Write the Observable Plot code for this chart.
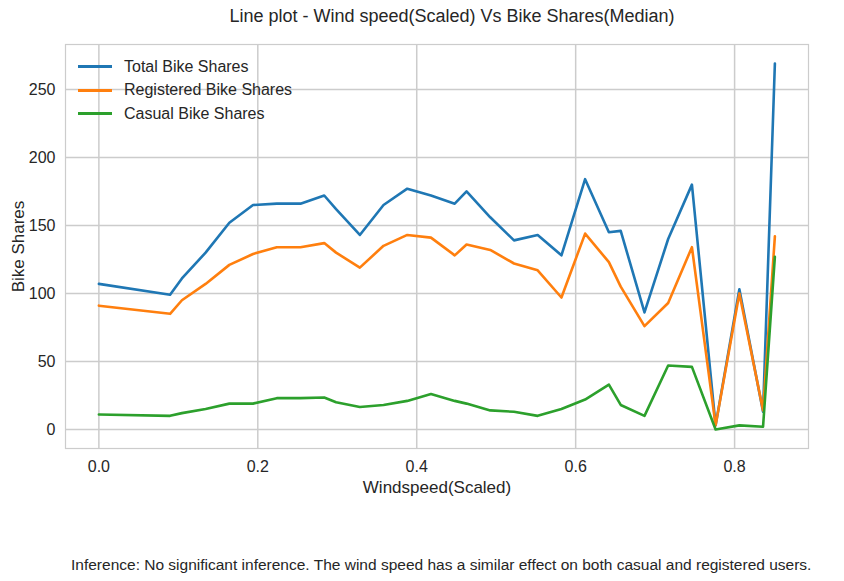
<!DOCTYPE html>
<html><head><meta charset="utf-8">
<script src="https://cdn.jsdelivr.net/npm/d3@7"></script>
<script src="https://cdn.jsdelivr.net/npm/@observablehq/plot@0.6"></script>
<style>
body{margin:0;font-family:"Liberation Sans",Arial,sans-serif;background:#fff;width:844px;position:relative}
#title{height:40px;line-height:32px;text-align:center;font-size:18px;color:#262626;padding-left:60px}
#legend{position:absolute;left:78px;top:55px;font-size:16px;color:#262626}
#legend div{display:flex;align-items:center;height:23.5px}
#legend span{display:inline-block;width:34px;height:3px;margin-right:12px}
#cap{margin-top:46px;font-size:15.5px;color:#262626;padding-left:71px;white-space:nowrap}
</style></head><body>
<div id="title">Line plot - Wind speed(Scaled) Vs Bike Shares(Median)</div>
<div id="chart"></div>
<div id="legend"></div>
<div id="cap">Inference: No significant inference. The wind speed has a similar effect on both casual and registered users.</div>
<script>
const windspeed=[0,0.0896,0.1045,0.1343,0.1642,0.194,0.2239,0.2537,0.2836,0.2985,0.3284,0.3582,0.3881,0.4179,0.4478,0.4627,0.4925,0.5224,0.5522,0.5821,0.6119,0.6418,0.6567,0.6866,0.7164,0.7463,0.7761,0.806,0.8358,0.8507];
const total=[107,99,111,130,152,165,166,166,172,162,143,165,177,172,166,175,156,139,143,128,184,145,146,86,140,180,3,103,13,269];
const registered=[91,85,95,107,121,129,134,134,137,130,119,135,143,141,128,136,132,122,117,97,144,123,105,76,93,134,3,100,14,142];
const casual=[11,10,12,15,19,19,23,23,23.5,20,16.5,18,21,26,21,19,14,13,10,15,22,33,18,10,47,46,0,3,2,127];
const seriesNames=["Total Bike Shares","Registered Bike Shares","Casual Bike Shares"];
const colors=["#1f77b4","#ff7f0e","#2ca02c"];
const xTicks=[0,0.2,0.4,0.6,0.8], yTicks=[0,50,100,150,200,250];
const vals=[total,registered,casual];
const data=[];
vals.forEach((arr,k)=>arr.forEach((v,i)=>data.push({x:windspeed[i],y:v,s:seriesNames[k]})));
const chart=Plot.plot({
  width:844,height:470,marginLeft:65,marginRight:36,marginTop:4,marginBottom:62,
  style:{fontSize:"16px",fontFamily:"Liberation Sans, Arial, sans-serif",color:"#262626"},
  x:{domain:[-0.042,0.893],ticks:xTicks,tickFormat:d3.format(".1f"),label:"Windspeed(Scaled)",labelAnchor:"center",labelArrow:"none",tickSize:0,tickPadding:12,labelOffset:44},
  y:{domain:[-14,283],ticks:yTicks,label:"Bike Shares",labelAnchor:"center",labelArrow:"none",tickSize:0,tickPadding:10,labelOffset:54},
  color:{domain:seriesNames,range:colors},
  marks:[
    Plot.gridX(xTicks,{stroke:"#cccccc",strokeOpacity:1,strokeWidth:1.5}),
    Plot.gridY(yTicks,{stroke:"#cccccc",strokeOpacity:1,strokeWidth:1.5}),
    Plot.frame({stroke:"#cccccc",strokeWidth:1.2}),
    Plot.line(data,{x:"x",y:"y",stroke:"s",strokeWidth:2.6})
  ]
});
chart.querySelectorAll('[aria-label$="axis label"] text, [aria-label="x-axis label"], [aria-label="y-axis label"]').forEach(e=>e.setAttribute("font-size","17px"));
document.getElementById("chart").appendChild(chart);
document.getElementById("legend").innerHTML=seriesNames.map((n,i)=>`<div><span style="background:${colors[i]}"></span>${n}</div>`).join("");
</script></body></html>
